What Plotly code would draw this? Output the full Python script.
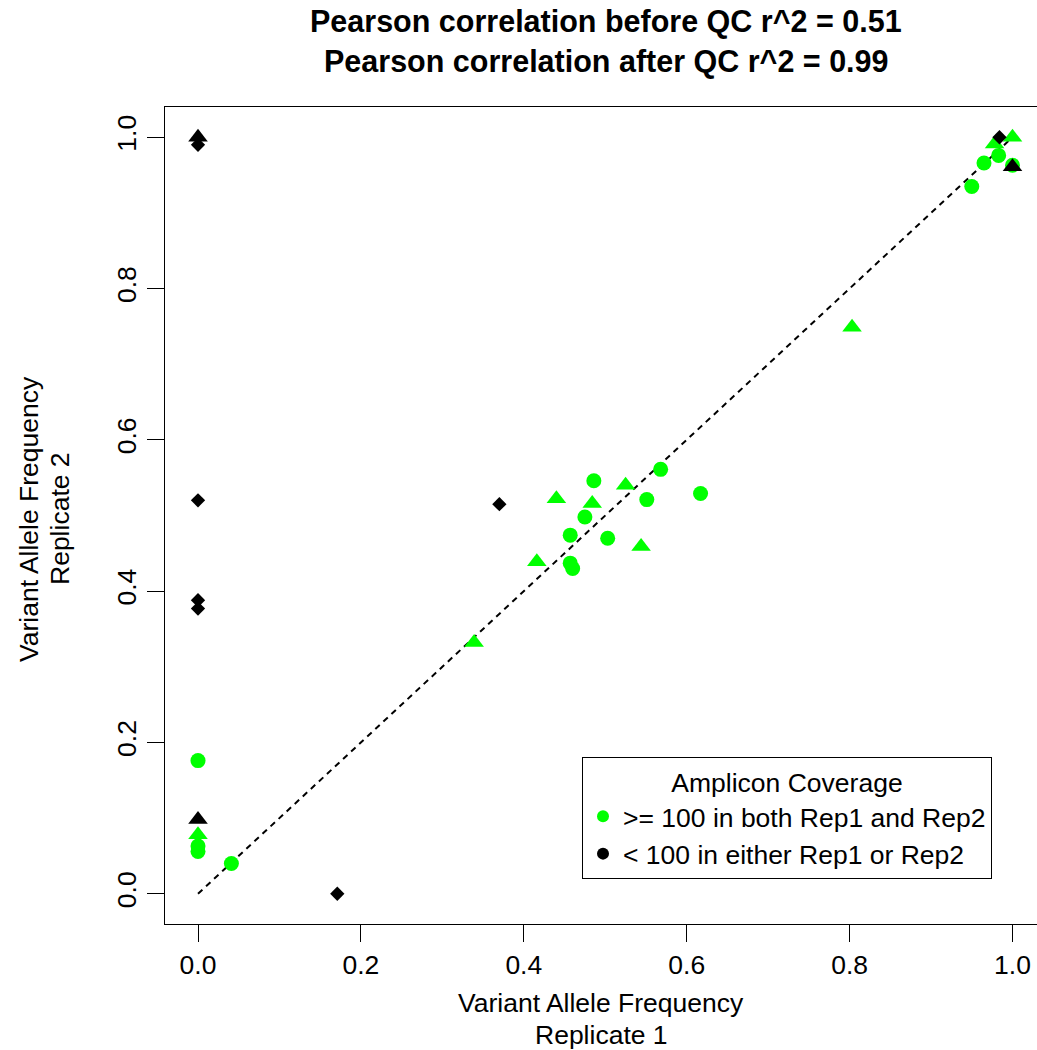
import plotly.graph_objects as go

# ---- data ----
rep1 = [0.0, 0.0, 0.0, 0.0, 0.0, 0.0, 0.0, 0.0, 0.0, 0.0,
        0.041, 0.171, 0.370,
        0.339, 0.416, 0.440, 0.484, 0.525, 0.544,
        0.486, 0.568, 0.617, 0.551, 0.475, 0.457, 0.503, 0.457, 0.460,
        0.803,
        0.950, 0.965, 0.983, 0.978, 0.984, 1.0, 1.0, 1.0]
rep2 = [1.0, 0.990, 0.520, 0.388, 0.377, 0.176, 0.098, 0.078, 0.063, 0.056,
        0.040, 0.0, 0.515,
        0.332, 0.439, 0.522, 0.516, 0.540, 0.459,
        0.546, 0.561, 0.529, 0.521, 0.498, 0.474, 0.470, 0.437, 0.430,
        0.749,
        0.935, 0.966, 0.976, 0.991, 1.0, 1.0, 0.963, 0.961]
coverage = ['lo', 'lo', 'lo', 'lo', 'lo', 'hi', 'lo', 'hi', 'hi', 'hi',
            'hi', 'lo', 'lo',
            'hi', 'hi', 'hi', 'hi', 'hi', 'hi',
            'hi', 'hi', 'hi', 'hi', 'hi', 'hi', 'hi', 'hi', 'hi',
            'hi',
            'hi', 'hi', 'hi', 'hi', 'lo', 'hi', 'hi', 'lo']
symbol = ['triangle', 'diamond', 'diamond', 'diamond', 'diamond', 'circle', 'triangle', 'triangle', 'circle', 'circle',
          'circle', 'diamond', 'diamond',
          'triangle', 'triangle', 'triangle', 'triangle', 'triangle', 'triangle',
          'circle', 'circle', 'circle', 'circle', 'circle', 'circle', 'circle', 'circle', 'circle',
          'triangle',
          'circle', 'circle', 'circle', 'triangle', 'diamond', 'triangle', 'circle', 'triangle']

identity_line = [0.0, 1.0]
tick_vals = [0.0, 0.2, 0.4, 0.6, 0.8, 1.0]
tick_text = ["0.0", "0.2", "0.4", "0.6", "0.8", "1.0"]
legend_labels = [">= 100 in both Rep1 and Rep2", "< 100 in either Rep1 or Rep2"]
title_lines = ["Pearson correlation before QC r^2 = 0.51",
               "Pearson correlation after QC r^2 = 0.99"]

# ---- styles ----
colors = {'hi': '#00ff00', 'lo': '#000000'}
plotly_sym = {'circle': 'circle', 'triangle': 'triangle-up', 'diamond': 'diamond'}
sizes = {'circle': 15, 'triangle': 17, 'diamond': 11}
FONT = "Liberation Sans, Arial, sans-serif"
FS = 26.5

fig = go.Figure()

fig.add_trace(go.Scatter(x=identity_line, y=identity_line, mode='lines',
                         line=dict(color='black', width=2, dash='6px,5px'),
                         showlegend=False, hoverinfo='skip'))

for cov in ['hi', 'lo']:
    for shp in ['circle', 'triangle', 'diamond']:
        xs = [a for a, c, s in zip(rep1, coverage, symbol) if c == cov and s == shp]
        ys = [b for b, c, s in zip(rep2, coverage, symbol) if c == cov and s == shp]
        if not xs:
            continue
        fig.add_trace(go.Scatter(x=xs, y=ys, mode='markers',
                                 marker=dict(color=colors[cov], symbol=plotly_sym[shp],
                                             size=sizes[shp], line=dict(width=0)),
                                 showlegend=False))

for cov, lab in zip(['hi', 'lo'], legend_labels):
    fig.add_trace(go.Scatter(x=[None], y=[None], mode='markers', name=lab,
                             marker=dict(color=colors[cov], size=12, symbol='circle')))

W, H = 1037, 1050
L, R, T, B = 165, 0, 107, 1050 - 924
pw = W - L - R
ph = H - T - B

def px_x(p):
    return (p - L) / pw

def px_y(p):
    return (H - B - p) / ph

axis_common = dict(showgrid=False, zeroline=False, showline=True, linecolor='black',
                   linewidth=1, ticks='outside', ticklen=17, tickwidth=1, tickcolor='black',
                   tickvals=tick_vals, ticktext=tick_text,
                   tickfont=dict(family=FONT, size=FS, color='black'))

x0_px, x1_px = 198, 1012.5
xscale = (x1_px - x0_px)
xmin = (L - x0_px) / xscale
xmax = (W - R - x0_px) / xscale

fig.update_layout(
    width=W, height=H,
    margin=dict(l=L, r=R, t=T, b=B, pad=0),
    paper_bgcolor='white', plot_bgcolor='white',
    xaxis=dict(range=[xmin, xmax], mirror=True, **axis_common),
    yaxis=dict(range=[-0.04, 1.04], mirror=False, tickangle=-90, **axis_common),
    showlegend=True,
    legend=dict(x=px_x(582), y=px_y(757), xanchor='left', yanchor='top',
                bordercolor='black', borderwidth=1, bgcolor='white',
                font=dict(family=FONT, size=FS, color='black'),
                title=dict(text='Amplicon Coverage', side='top center',
                           font=dict(family=FONT, size=FS, color='black')),
                itemwidth=30, tracegroupgap=0),
    font=dict(family=FONT, color='black'),
)

ann = []
for txt, py in zip(title_lines, [22, 62]):
    ann.append(dict(text='<b>' + txt + '</b>', x=px_x(606), y=px_y(py), xref='paper', yref='paper',
                    showarrow=False, xanchor='center', yanchor='middle',
                    font=dict(family=FONT, size=30.5, color='black')))
for txt, py in zip(["Variant Allele Frequency", "Replicate 1"], [1003, 1035]):
    ann.append(dict(text=txt, x=px_x(601), y=px_y(py), xref='paper', yref='paper',
                    showarrow=False, xanchor='center', yanchor='middle',
                    font=dict(family=FONT, size=FS, color='black')))
for txt, pxx in zip(["Variant Allele Frequency", "Replicate 2"], [29, 60]):
    ann.append(dict(text=txt, x=px_x(pxx), y=px_y(519), xref='paper', yref='paper',
                    showarrow=False, xanchor='center', yanchor='middle', textangle=-90,
                    font=dict(family=FONT, size=FS, color='black')))
fig.update_layout(annotations=ann)

fig.write_html("out.html", config={'displayModeBar': False},
               post_script="document.body.style.margin='0';document.body.style.overflow='hidden';")
